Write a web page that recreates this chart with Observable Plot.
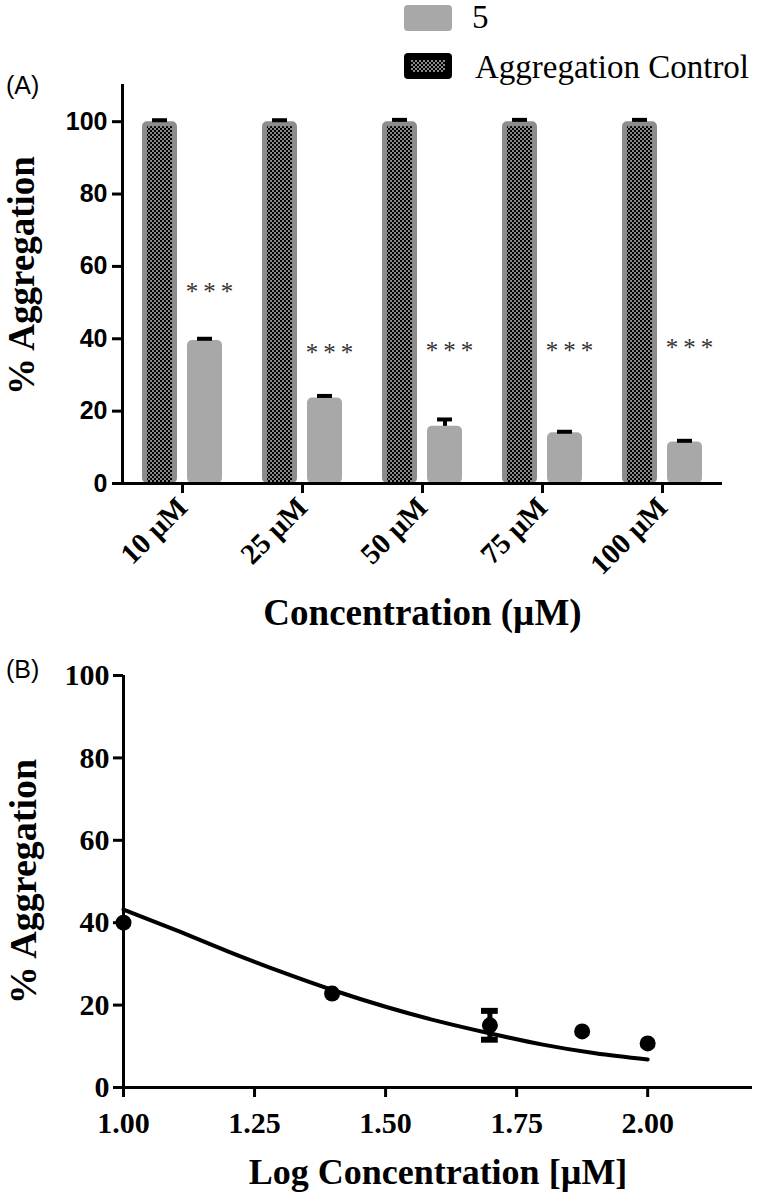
<!DOCTYPE html>
<html>
<head>
<meta charset="utf-8">
<script src="https://cdn.jsdelivr.net/npm/d3@7"></script>
<script src="https://cdn.jsdelivr.net/npm/@observablehq/plot@0.6"></script>
<style>
  body { margin: 0; background: #fff; }
  #wrap { position: relative; width: 760px; height: 1196px; overflow: hidden; background: #fff; }
  .abs { position: absolute; white-space: nowrap; }
  .serif { font-family: "Liberation Serif", "Times New Roman", serif; }
  .sans { font-family: "Liberation Sans", Arial, sans-serif; }
</style>
</head>
<body>
<div id="wrap">
  <div id="panelA" class="abs" style="left:0;top:0"></div>
  <div id="panelB" class="abs" style="left:0;top:650px"></div>
  <!-- legend -->
  <div class="abs" style="left:404px;top:5px;width:48px;height:26px;border-radius:4px;background:#a8a8a8"></div>
  <div class="abs serif" style="left:472px;top:1px;font-size:33px;line-height:32px;color:#000">5</div>
  <div class="abs" style="left:404px;top:53px;width:48px;height:26px;border-radius:4px;background:#000"></div>
  <div class="abs" style="left:411px;top:60px;width:34px;height:12px;background-image:repeating-conic-gradient(#000 0% 25%, #8a8a8a 0% 50%);background-size:4px 4px"></div>
  <div class="abs serif" style="left:475px;top:51px;font-size:33px;line-height:32px;color:#000">Aggregation Control</div>
  <div class="abs sans" style="left:6px;top:72px;font-size:25px;line-height:26px;color:#000">(A)</div>
  <div class="abs sans" style="left:6px;top:656px;font-size:25px;line-height:26px;color:#000">(B)</div>
</div>
<script>
// ---------- Panel A data ----------
const concentrations = ["10 µM", "25 µM", "50 µM", "75 µM", "100 µM"];
const controlMean = [100, 100, 100, 100, 100];
const controlErr = [0.4, 0.4, 0.5, 0.5, 0.5];
const compoundMean = [39.5, 23.6, 15.8, 14.0, 11.5];
const compoundErr = [0.5, 0.6, 1.9, 0.3, 0.3];
const sigLabels = ["*\u2009*\u2009*", "*\u2009*\u2009*", "*\u2009*\u2009*", "*\u2009*\u2009*", "*\u2009*\u2009*"];
const sigY = [53, 36, 36.5, 36.5, 37.5];
const yTicksA = [0, 20, 40, 60, 80, 100];

// ---------- Panel B data ----------
const logConc = [1.0, 1.398, 1.699, 1.875, 2.0];
const pointMean = [40.0, 22.8, 15.1, 13.6, 10.7];
const pointErr = [0, 0, 3.5, 0, 0];
const fitX = [1.0, 1.1, 1.2, 1.3, 1.4, 1.5, 1.6, 1.7, 1.8, 1.9, 2.0];
const fitY = [43.2, 38.2, 33.0, 28.1, 23.6, 19.6, 16.1, 13.1, 10.4, 8.3, 6.8];
const xTicksB = [1.0, 1.25, 1.5, 1.75, 2.0];
const yTicksB = [0, 20, 40, 60, 80, 100];

const SERIF = "Liberation Serif, Times New Roman, serif";
const SANS = "Liberation Sans, Arial, sans-serif";

const tableA = concentrations.map((c, i) => ({
  conc: c,
  control: controlMean[i], controlErr: controlErr[i],
  compound: compoundMean[i], compoundErr: compoundErr[i],
  sig: sigLabels[i], sigY: sigY[i]
}));

const plotA = Plot.plot({
  width: 760, height: 650,
  marginLeft: 122, marginRight: 38, marginTop: 85, marginBottom: 167,
  x: {domain: concentrations, paddingInner: 1/3, paddingOuter: 1/6, align: 0.5, label: null},
  y: {domain: [0, 110], label: null},
  marks: [
    // control bars: grey rim + checkered interior
    Plot.barY(tableA, {x: "conc", y: "control", fill: "#8c8c8c", insetRight: 45, rx: 5}),
    Plot.barY(tableA, {x: "conc", y: "control", fill: "url(#checker)", insetLeft: 5, insetRight: 50, insetTop: 5}),
    // compound bars
    Plot.barY(tableA, {x: "conc", y: "compound", fill: "#a8a8a8", insetLeft: 45, rx: 5}),
    // error bars (upper)
    Plot.ruleX(tableA, {x: "conc", y1: "control", y2: d => d.control + d.controlErr, dx: -22.5, strokeWidth: 4}),
    Plot.tickY(tableA, {x: "conc", y: d => d.control + d.controlErr, insetLeft: 10, insetRight: 55, strokeWidth: 4}),
    Plot.ruleX(tableA, {x: "conc", y1: "compound", y2: d => d.compound + d.compoundErr, dx: 22.5, strokeWidth: 4}),
    Plot.tickY(tableA, {x: "conc", y: d => d.compound + d.compoundErr, insetLeft: 55, insetRight: 10, strokeWidth: 4}),
    // significance
    Plot.text(tableA, {x: "conc", y: "sigY", text: "sig", dx: 27, fontSize: 25, fontFamily: SERIF, fill: "#333"}),
    // axes
    Plot.ruleY([0], {strokeWidth: 3}),
    Plot.frame({anchor: "left", strokeWidth: 3}),
    Plot.axisY({ticks: yTicksA, tickSize: 10, tickPadding: 5, strokeWidth: 3, fontSize: 25, fontWeight: "bold", fontFamily: SANS, label: null}),
    Plot.axisX({tickSize: 10, tickPadding: 9, strokeWidth: 3, tickRotate: -45, fontSize: 29, fontWeight: "bold", fontFamily: SERIF, label: null}),
    Plot.text(["% Aggregation"], {text: d => d, frameAnchor: "left", textAnchor: "middle", lineAnchor: "middle", rotate: -90, dx: -100, dy: -9, fontSize: 37, fontWeight: "bold", fontFamily: SERIF}),
    Plot.text(["Concentration (µM)"], {text: d => d, frameAnchor: "bottom", textAnchor: "middle", lineAnchor: "middle", dy: 130, fontSize: 37, fontWeight: "bold", fontFamily: SERIF})
  ]
});

// checker pattern definition for the control bars
const defs = d3.select(plotA).insert("defs", ":first-child");
const pat = defs.append("pattern").attr("id", "checker").attr("patternUnits", "userSpaceOnUse").attr("width", 4).attr("height", 4);
pat.append("rect").attr("width", 4).attr("height", 4).attr("fill", "#8a8a8a");
pat.append("rect").attr("width", 2).attr("height", 2).attr("fill", "#000");
pat.append("rect").attr("x", 2).attr("y", 2).attr("width", 2).attr("height", 2).attr("fill", "#000");

document.getElementById("panelA").appendChild(plotA);

// ---------- Panel B ----------
const pointsB = logConc.map((x, i) => ({x, mean: pointMean[i], err: pointErr[i]}));
const errB = pointsB.filter(d => d.err > 0);
const fitB = fitX.map((x, i) => ({x, y: fitY[i]}));

const plotB = Plot.plot({
  width: 760, height: 546,
  marginLeft: 123, marginRight: 8, marginTop: 25, marginBottom: 109,
  x: {domain: [1, 2.2], label: null},
  y: {domain: [0, 100], label: null},
  marks: [
    Plot.ruleY([0], {strokeWidth: 3}),
    Plot.ruleX([1], {strokeWidth: 3}),
    Plot.line(fitB, {x: "x", y: "y", curve: "monotone-x", strokeWidth: 4, stroke: "#000"}),
    Plot.ruleX(errB, {x: "x", y1: d => d.mean - d.err, y2: d => d.mean + d.err, strokeWidth: 5}),
    Plot.ruleY(errB, {y: d => d.mean + d.err, x1: d => d.x - 0.016, x2: d => d.x + 0.016, strokeWidth: 6}),
    Plot.ruleY(errB, {y: d => d.mean - d.err, x1: d => d.x - 0.016, x2: d => d.x + 0.016, strokeWidth: 6}),
    Plot.dot(pointsB, {x: "x", y: "mean", r: 8, fill: "#000"}),
    Plot.axisY({ticks: yTicksB, tickSize: 10, tickPadding: 4, strokeWidth: 3, fontSize: 30, fontWeight: "bold", fontFamily: SERIF, label: null}),
    Plot.axisX({ticks: xTicksB, tickFormat: ".2f", tickSize: 10, tickPadding: 14, strokeWidth: 3, fontSize: 30, fontWeight: "bold", fontFamily: SERIF, label: null}),
    Plot.text(["% Aggregation"], {text: d => d, frameAnchor: "left", textAnchor: "middle", lineAnchor: "middle", rotate: -90, dx: -100, fontSize: 38, fontWeight: "bold", fontFamily: SERIF}),
    Plot.text(["Log Concentration [µM]"], {text: d => d, frameAnchor: "bottom", textAnchor: "middle", lineAnchor: "middle", dy: 85, fontSize: 36, fontWeight: "bold", fontFamily: SERIF})
  ]
});
document.getElementById("panelB").appendChild(plotB);
</script>
</body>
</html>
